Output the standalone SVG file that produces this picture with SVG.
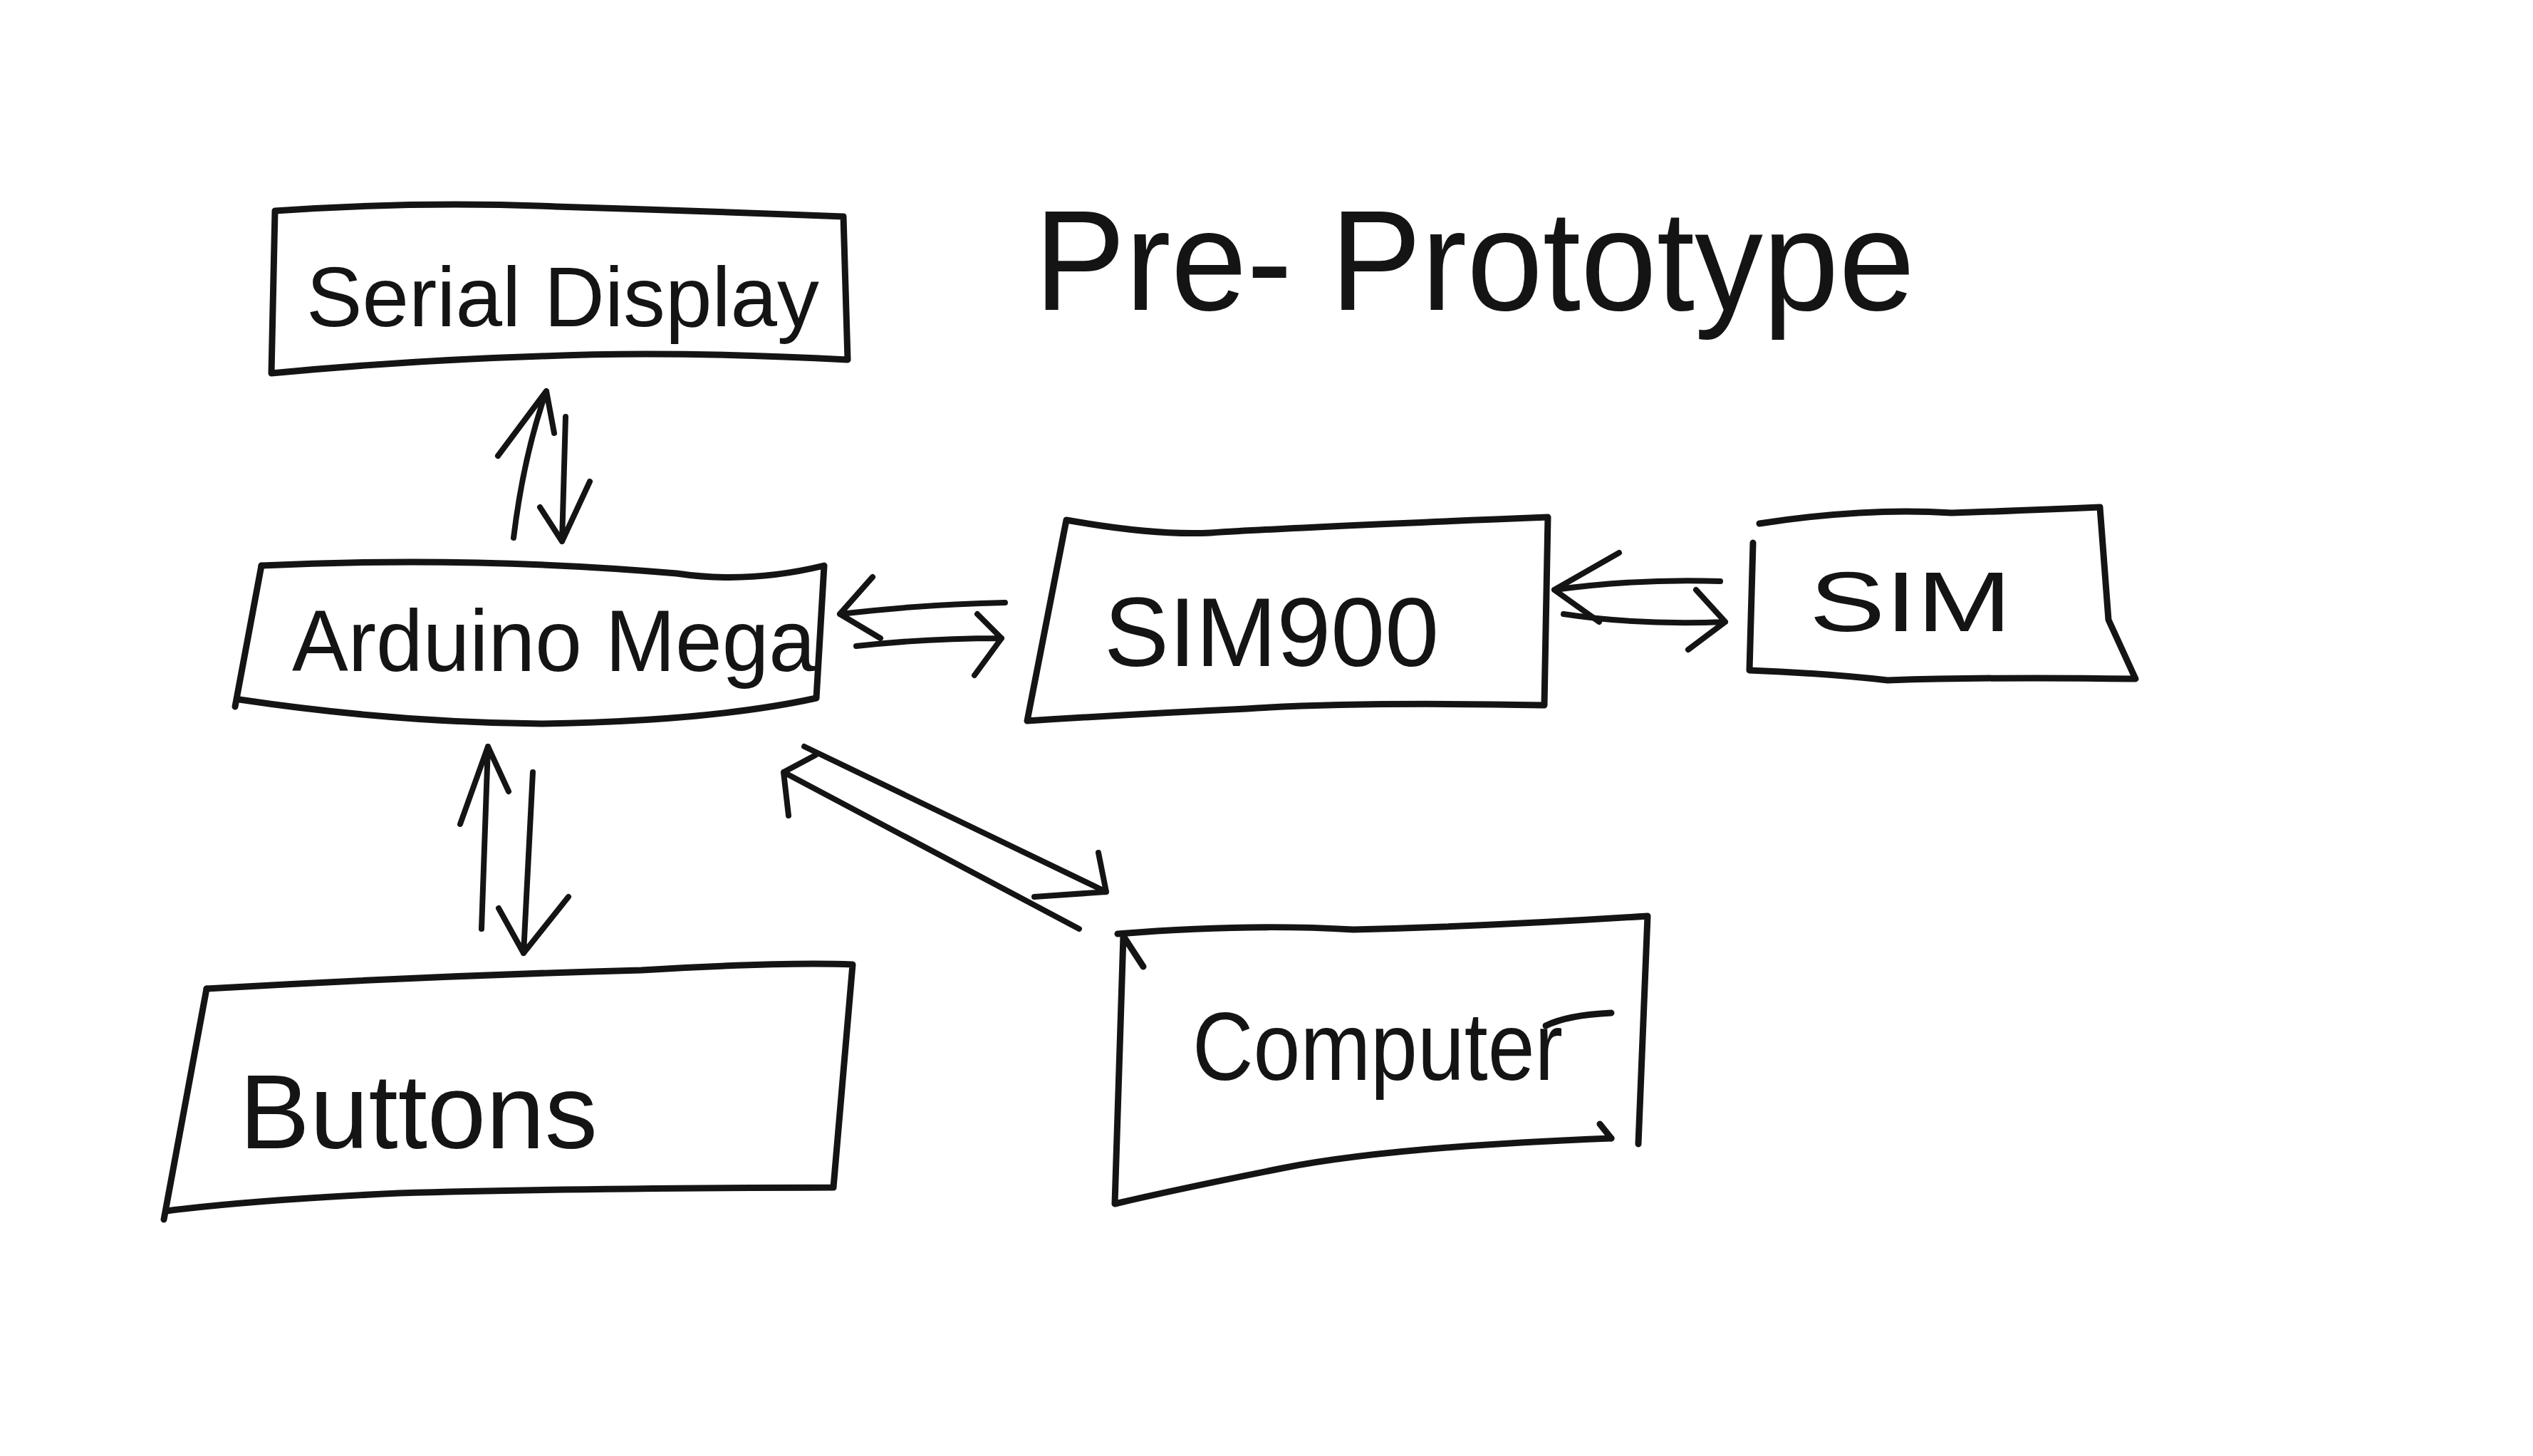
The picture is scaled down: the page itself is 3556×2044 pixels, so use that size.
<svg xmlns="http://www.w3.org/2000/svg" width="3556" height="2044" viewBox="0 0 3556 2044">
<style>
.box{fill:none;stroke:#141414;stroke-width:9;stroke-linecap:round;stroke-linejoin:round}
.arr{fill:none;stroke:#141414;stroke-width:8;stroke-linecap:round;stroke-linejoin:round}
.lbl{font-family:"Liberation Sans",Arial,sans-serif;fill:#141414}
</style>
<rect width="3556" height="2044" fill="#ffffff"/>
<text class="lbl" x="1452" y="435" font-size="200" textLength="1236" lengthAdjust="spacingAndGlyphs">Pre- Prototype</text>
<g id="serial-display">
<path class="box" d="M386,296 Q590,282 780,290 Q980,296 1184,304 L1190,505 Q940,492 760,500 Q570,506 381,524 L386,296"/>
<text class="lbl" x="430" y="458" font-size="118" textLength="720" lengthAdjust="spacingAndGlyphs">Serial Display</text>
</g>
<g id="arduino-mega">
<path class="box" d="M367,794 Q660,780 950,805 Q1050,820 1157,794 L1146,980 Q1000,1012 760,1016 Q550,1014 336,982"/>
<path class="box" d="M367,794 L330,992"/>
<text class="lbl" x="410" y="942" font-size="122" textLength="735" lengthAdjust="spacingAndGlyphs">Arduino Mega</text>
</g>
<g id="sim900">
<path class="box" d="M1497,730 Q1620,752 1700,748 Q1820,740 2173,726 L2168,990 Q1900,985 1750,995 Q1600,1002 1442,1012 L1497,730"/>
<text class="lbl" x="1550" y="935" font-size="138" textLength="470" lengthAdjust="spacingAndGlyphs">SIM900</text>
</g>
<g id="sim">
<path class="box" d="M2470,735 Q2620,712 2740,720 Q2860,716 2948,712 L2960,870 L2998,953 Q2800,950 2650,955 Q2560,945 2456,941 L2461,762"/>
<text class="lbl" x="2540" y="886" font-size="118" textLength="284" lengthAdjust="spacingAndGlyphs">SIM</text>
</g>
<g id="buttons">
<path class="box" d="M290,1388 Q600,1370 900,1362 Q1100,1350 1197,1354 L1170,1667 Q800,1668 560,1675 Q350,1685 234,1700"/>
<path class="box" d="M290,1388 L230,1712"/>
<text class="lbl" x="336" y="1612" font-size="148" textLength="503" lengthAdjust="spacingAndGlyphs">Buttons</text>
</g>
<g id="computer">
<path class="box" d="M1569,1311 Q1750,1296 1900,1305 Q2100,1300 2313,1286 L2300,1606"/>
<path class="box" d="M2262,1598 Q1950,1610 1800,1640 Q1650,1670 1565,1690 L1577,1314 L1605,1357"/>
<path class="box" d="M2262,1598 L2246,1578"/>
<text class="lbl" x="1674" y="1516" font-size="136" textLength="520" lengthAdjust="spacingAndGlyphs">Computer</text>
<path class="box" d="M2170,1440 Q2200,1425 2262,1422"/>
</g>
<g id="connectors">
<path class="arr" d="M721,755 Q735,640 767,549 M699,640 L767,549 L778,608"/>
<path class="arr" d="M794,585 L789,760 M758,712 L789,760 L828,676"/>
<path class="arr" d="M676,1304 L685,1048 M646,1157 L685,1048 L714,1111"/>
<path class="arr" d="M748,1084 L735,1338 M700,1275 L735,1338 L798,1259"/>
<path class="arr" d="M1411,846 Q1300,848 1179,862 M1225,810 L1179,862 L1236,896"/>
<path class="arr" d="M1202,907 Q1300,896 1406,896 M1372,862 L1406,896 L1368,948"/>
<path class="arr" d="M2415,816 Q2300,812 2182,828 M2273,776 L2182,828 L2245,873"/>
<path class="arr" d="M2195,862 Q2300,878 2422,873 M2381,828 L2422,873 L2370,912"/>
<path class="arr" d="M1515,1304 L1100,1084 M1145,1060 L1100,1084 L1107,1145"/>
<path class="arr" d="M1129,1048 L1553,1252 M1542,1197 L1553,1252 L1452,1259"/>
</g>
</svg>
